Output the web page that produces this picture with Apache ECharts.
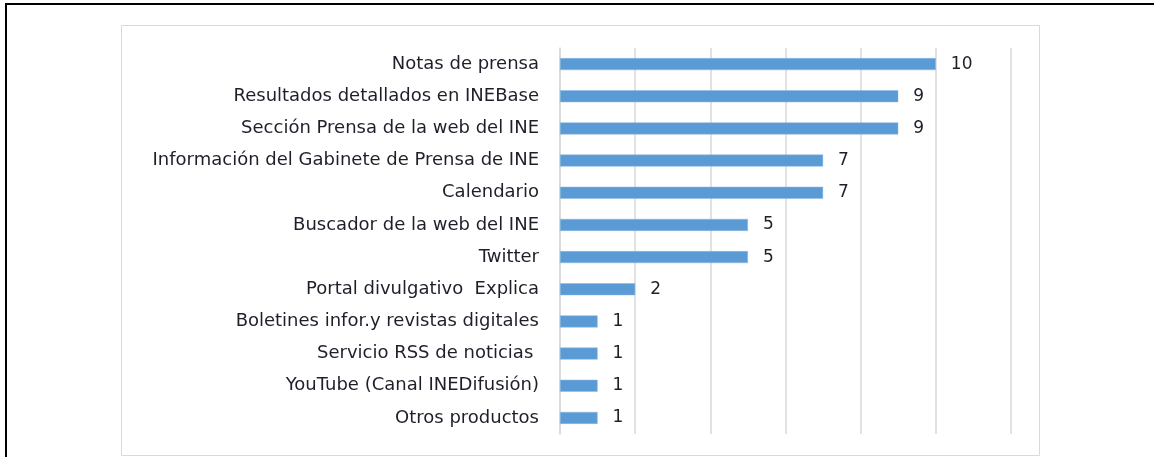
<!DOCTYPE html>
<html>
<head>
<meta charset="utf-8">
<script src="https://cdn.jsdelivr.net/npm/echarts@6/dist/echarts.min.js"></script>
<style>
html,body{margin:0;padding:0;background:#fff;}
#chart{width:1154px;height:457px;}
</style>
</head>
<body>
<div id="chart"></div>
<script>
const categories = [
  "Notas de prensa",
  "Resultados detallados en INEBase",
  "Sección Prensa de la web del INE",
  "Información del Gabinete de Prensa de INE",
  "Calendario",
  "Buscador de la web del INE",
  "Twitter",
  "Portal divulgativo  Explica",
  "Boletines infor.y revistas digitales",
  "Servicio RSS de noticias ",
  "YouTube (Canal INEDifusión)",
  "Otros productos"
];
const values = [10, 9, 9, 7, 7, 5, 5, 2, 1, 1, 1, 1];
const xTicks = [0, 2, 4, 6, 8, 10, 12];

const chart = echarts.init(document.getElementById('chart'), null, {renderer: 'canvas'});
const font = '"DejaVu Sans", Verdana, sans-serif';
chart.setOption({
  animation: false,
  backgroundColor: '#ffffff',
  graphic: [
    {type: 'rect', shape: {x: 121.5, y: 25.5, width: 918, height: 430}, style: {fill: 'none', stroke: '#d9d9d9', lineWidth: 1}, silent: true, z: 0},
    {type: 'line', shape: {x1: 5, y1: 4, x2: 1154, y2: 4}, style: {stroke: '#000', lineWidth: 2}, silent: true},
    {type: 'line', shape: {x1: 6, y1: 3, x2: 6, y2: 457}, style: {stroke: '#000', lineWidth: 2}, silent: true}
  ],
  grid: {left: 560, right: 143, top: 48, bottom: 23, containLabel: false},
  xAxis: {
    type: 'value',
    min: xTicks[0],
    max: xTicks[xTicks.length - 1],
    interval: 2,
    axisLabel: {show: false},
    axisLine: {show: false},
    axisTick: {show: false},
    splitLine: {show: true, lineStyle: {color: '#d9d9d9', width: 1.5}}
  },
  yAxis: {
    type: 'category',
    data: categories,
    inverse: true,
    axisLine: {show: true, lineStyle: {color: '#d9d9d9', width: 1.5}},
    axisTick: {show: false},
    axisLabel: {margin: 21, fontFamily: font, fontSize: 18, color: '#1f1f2a'}
  },
  series: [{
    type: 'bar',
    data: values,
    barWidth: 12,
    itemStyle: {color: '#5b9bd5', borderColor: '#8db8e3', borderWidth: 0.5},
    label: {show: true, position: 'right', distance: 15, fontFamily: font, fontSize: 17, color: '#1f1f2a'}
  }]
});
</script>
</body>
</html>
